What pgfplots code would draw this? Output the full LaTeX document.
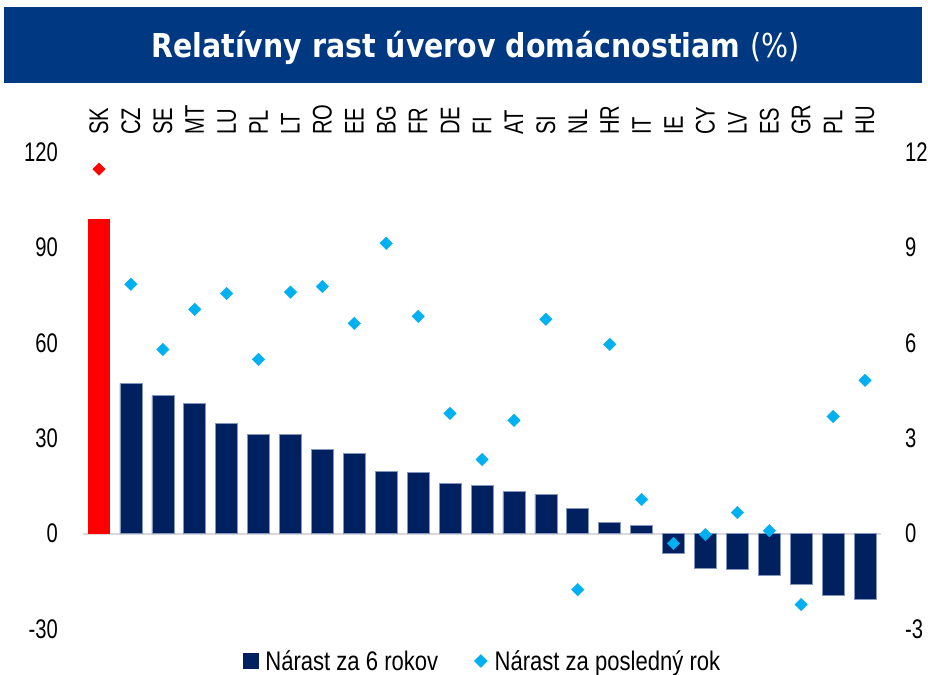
\documentclass[border=0pt]{standalone}
\usepackage{pgfplots}
\pgfplotsset{compat=1.18}
\usepackage{fontspec}
\setmainfont{Liberation Sans}[FakeStretch=0.75]
\newfontfamily\legfont{Liberation Sans}[FakeStretch=0.82]
\newfontfamily\titlefont{DejaVu Sans}[FakeStretch=0.865]
\definecolor{navy}{RGB}{0,32,96}
\definecolor{cyanm}{RGB}{0,176,240}
\definecolor{titleblue}{RGB}{0,56,130}
\definecolor{zerogray}{RGB}{217,217,217}
\definecolor{baredge}{RGB}{130,150,190}
\newcommand\lbl{\fontsize{27}{32}\selectfont}
\begin{document}
\begin{tikzpicture}[x=1bp,y=1bp]
\path[use as bounding box] (0,0) rectangle (928,675);
\fill[titleblue] (4,592) rectangle (922,668);
\node[text=white, inner sep=0pt, anchor=base] at (475.5,617) {\titlefont\fontsize{33}{40}\selectfont\bfseries Relatívny rast úverov domácnostiam \mdseries(\%)};

\begin{axis}[
  at={(83bp,46bp)}, anchor=south west,
  width=798bp, height=477bp, scale only axis,
  xmin=-0.5, xmax=24.5, ymin=-30, ymax=120,
  ytick={-30,0,30,60,90,120},
  yticklabels={-30,0,30,60,90,120},
  yticklabel style={anchor=east, inner sep=0pt, xshift=-25bp},
  xtick={0,...,24},
  xticklabels={SK,CZ,SE,MT,LU,PL,LT,RO,EE,BG,FR,DE,FI,AT,SI,NL,HR,IT,IE,CY,LV,ES,GR,PL,HU},
  xticklabel pos=upper,
  xticklabel style={yshift=17bp, rotate=90, anchor=west, inner sep=0pt},
  tick label style={font=\lbl},
  major tick length=0pt,
  axis line style={draw=none},
  ybar, bar width=22bp, bar shift=0pt,
  clip=false,
  legend style={at={(0.5006,-0.067)}, anchor=center, draw=none, fill=none,
    legend columns=2, font=\legfont\lbl,
    /tikz/every odd column/.append style={column sep=5bp},
    /tikz/every even column/.append style={column sep=34bp}},
]
\draw[zerogray, line width=2bp] (axis cs:-0.5,0) -- (axis cs:24.5,0);
\addplot[fill=red, draw=none, forget plot] coordinates {(0,99)};
\addplot[fill=navy, draw=baredge, line width=0.6bp,
  legend image code/.code={\fill[navy] (0bp,-7.5bp) rectangle (15bp,7.5bp);}]
  coordinates {
  (1,47.2) (2,43.4) (3,40.9) (4,34.6) (5,31.2) (6,31.2) (7,26.4) (8,25.2)
  (9,19.5) (10,19.2) (11,15.7) (12,15.1) (13,13.2) (14,12.3) (15,7.9)
  (16,3.5) (17,2.5) (18,-6.3) (19,-11.0) (20,-11.3) (21,-13.2) (22,-16.0)
  (23,-19.5) (24,-20.8)
  };
\addlegendentry{Nárast za 6 rokov}
\addlegendimage{legend image code/.code={\fill[cyanm] (0bp,0bp) -- (6.5bp,6.5bp) -- (13bp,0bp) -- (6.5bp,-6.5bp) -- cycle;}}
\addlegendentry{Nárast za posledný rok}
\end{axis}

\begin{axis}[
  at={(83bp,46bp)}, anchor=south west,
  width=798bp, height=477bp, scale only axis,
  xmin=-0.5, xmax=24.5, ymin=-3, ymax=12,
  hide x axis,
  ytick={-3,0,3,6,9,12},
  yticklabels={-3,0,3,6,9,12},
  yticklabel pos=right,
  yticklabel style={anchor=west, inner sep=0pt, xshift=24bp},
  tick label style={font=\lbl},
  major tick length=0pt,
  axis line style={draw=none},
  clip=false,
]
\addplot[only marks, mark=square*, mark size=4.4bp, color=cyanm, mark options={rotate=45}]
  coordinates {
  (1,7.84) (2,5.79) (3,7.05) (4,7.55) (5,5.48) (6,7.59) (7,7.77) (8,6.61)
  (9,9.13) (10,6.83) (11,3.78) (12,2.33) (13,3.56) (14,6.74) (15,-1.76)
  (16,5.95) (17,1.07) (18,-0.31) (19,-0.03) (20,0.66) (21,0.09) (22,-2.23)
  (23,3.68) (24,4.82)
  };
\addplot[only marks, mark=square*, mark size=4.4bp, color=red, mark options={rotate=45}]
  coordinates {(0,11.46)};
\end{axis}
\end{tikzpicture}
\end{document}
